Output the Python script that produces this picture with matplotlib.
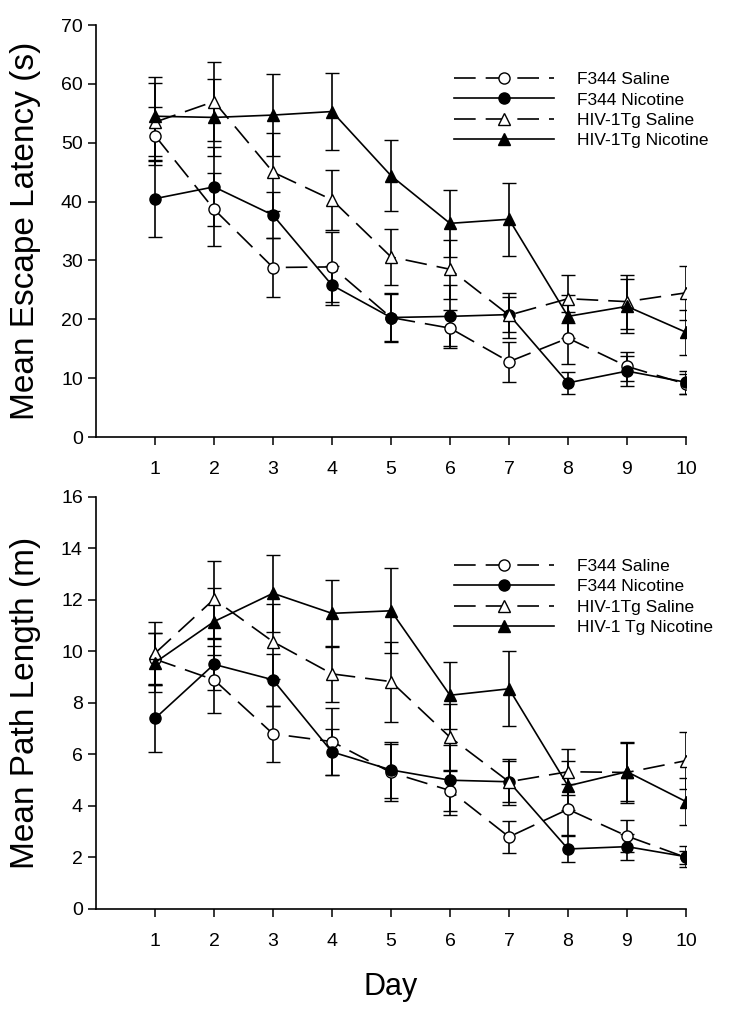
# two-panel water maze chart: escape latency and path length over 10 days

import matplotlib
matplotlib.use('Agg')
import matplotlib.pyplot as plt

plt.rcParams['font.family'] = ['Liberation Sans', 'DejaVu Sans']

# data
days = [1, 2, 3, 4, 5, 6, 7, 8, 9, 10]
groups = ['F344 Saline', 'F344 Nicotine', 'HIV-1Tg Saline', 'HIV-1Tg Nicotine']
groups_bottom = ['F344 Saline', 'F344 Nicotine', 'HIV-1Tg Saline', 'HIV-1 Tg Nicotine']

latency_f344_sal = [51.2, 38.7, 28.8, 28.9, 20.3, 18.5, 12.8, 16.8, 12.0, 9.0]
latency_f344_sal_err = [4.9, 6.2, 5.0, 5.9, 4.0, 3.0, 3.4, 4.4, 2.5, 1.7]
latency_f344_nic = [40.5, 42.5, 37.7, 25.8, 20.3, 20.5, 20.8, 9.2, 11.2, 9.3]
latency_f344_nic_err = [6.5, 6.7, 3.9, 3.3, 4.2, 5.3, 3.0, 1.9, 2.5, 2.0]
latency_hiv_sal = [53.5, 57.0, 45.0, 40.3, 30.6, 28.5, 20.7, 23.5, 23.0, 24.5]
latency_hiv_sal_err = [6.6, 6.7, 6.6, 5.1, 4.7, 5.0, 3.8, 4.1, 4.6, 4.6]
latency_hiv_nic = [54.5, 54.3, 54.7, 55.3, 44.4, 36.3, 37.0, 20.5, 22.2, 17.8]
latency_hiv_nic_err = [6.7, 6.5, 7.0, 6.5, 6.0, 5.7, 6.2, 3.7, 4.6, 3.8]

path_f344_sal = [9.7, 8.9, 6.8, 6.5, 5.3, 4.6, 2.8, 3.87, 2.83, 2.0]
path_f344_sal_err = [1.0, 1.3, 1.1, 1.3, 1.1, 0.8, 0.63, 1.0, 0.63, 0.25]
path_f344_nic = [7.4, 9.5, 8.9, 6.1, 5.4, 5.0, 4.94, 2.33, 2.42, 2.03]
path_f344_nic_err = [1.3, 1.0, 1.0, 0.9, 1.1, 1.35, 0.8, 0.5, 0.5, 0.4]
path_hiv_sal = [9.93, 12.03, 10.38, 9.13, 8.83, 6.67, 4.94, 5.33, 5.3, 5.76]
path_hiv_sal_err = [1.2, 1.5, 1.45, 1.1, 1.55, 1.3, 0.9, 0.9, 1.2, 1.1]
path_hiv_nic = [9.57, 11.16, 12.26, 11.48, 11.58, 8.3, 8.55, 4.78, 5.33, 4.17]
path_hiv_nic_err = [1.15, 1.3, 1.5, 1.3, 1.65, 1.3, 1.45, 0.95, 1.13, 0.9]

# styles per group: marker, face colour, line style
dashed = (0, (13, 6))
styles = [
    ('o', 'white', dashed),
    ('o', 'black', '-'),
    ('^', 'white', dashed),
    ('^', 'black', '-'),
]

fig = plt.figure(figsize=(7.29, 10.13), dpi=100)
ax1 = fig.add_axes([0.1317, 0.5686, 0.8093, 0.4067])
ax2 = fig.add_axes([0.1317, 0.1027, 0.8093, 0.4067])


def draw_panel(ax, series, labels, ymax, ystep, ylabel, legend_top):
    handles = []
    for (vals, errs), label, (mk, face, ls) in zip(series, labels, styles):
        cont = ax.errorbar(days, vals, yerr=errs, color='black', linestyle=ls,
                           linewidth=1.2, marker=mk, markersize=8,
                           markerfacecolor=face, markeredgecolor='black',
                           markeredgewidth=1.0, ecolor='black', elinewidth=1.2,
                           capsize=5, capthick=1.2, label=label)
        handles.append(cont.lines[0])
    ax.set_xlim(0, 10)
    ax.set_ylim(0, ymax)
    ax.set_xticks(days)
    ax.set_yticks(range(0, ymax + 1, ystep))
    ax.spines['top'].set_visible(False)
    ax.spines['right'].set_visible(False)
    ax.spines['left'].set_linewidth(1.2)
    ax.spines['bottom'].set_linewidth(1.2)
    ax.tick_params(direction='out', length=6, width=1.1, labelsize=14)
    ax.tick_params(axis='x', pad=11)
    ax.set_ylabel(ylabel, fontsize=24)
    ax.yaxis.set_label_coords(-0.093, 0.5)
    ax.legend(handles, labels, loc='upper left',
              bbox_to_anchor=(0.607, legend_top), frameon=False,
              fontsize=12.5, handlelength=5.75, handletextpad=1.3,
              labelspacing=0.3, borderpad=0, borderaxespad=0)


draw_panel(ax1, [(latency_f344_sal, latency_f344_sal_err),
                 (latency_f344_nic, latency_f344_nic_err),
                 (latency_hiv_sal, latency_hiv_sal_err),
                 (latency_hiv_nic, latency_hiv_nic_err)],
           groups, 70, 10, 'Mean Escape Latency (s)', 0.886)
draw_panel(ax2, [(path_f344_sal, path_f344_sal_err),
                 (path_f344_nic, path_f344_nic_err),
                 (path_hiv_sal, path_hiv_sal_err),
                 (path_hiv_nic, path_hiv_nic_err)],
           groups_bottom, 16, 2, 'Mean Path Length (m)', 0.85)
ax2.set_xlabel('Day', fontsize=22)
ax2.xaxis.set_label_coords(0.5, -0.152)

fig.savefig('out.png', dpi=100)
